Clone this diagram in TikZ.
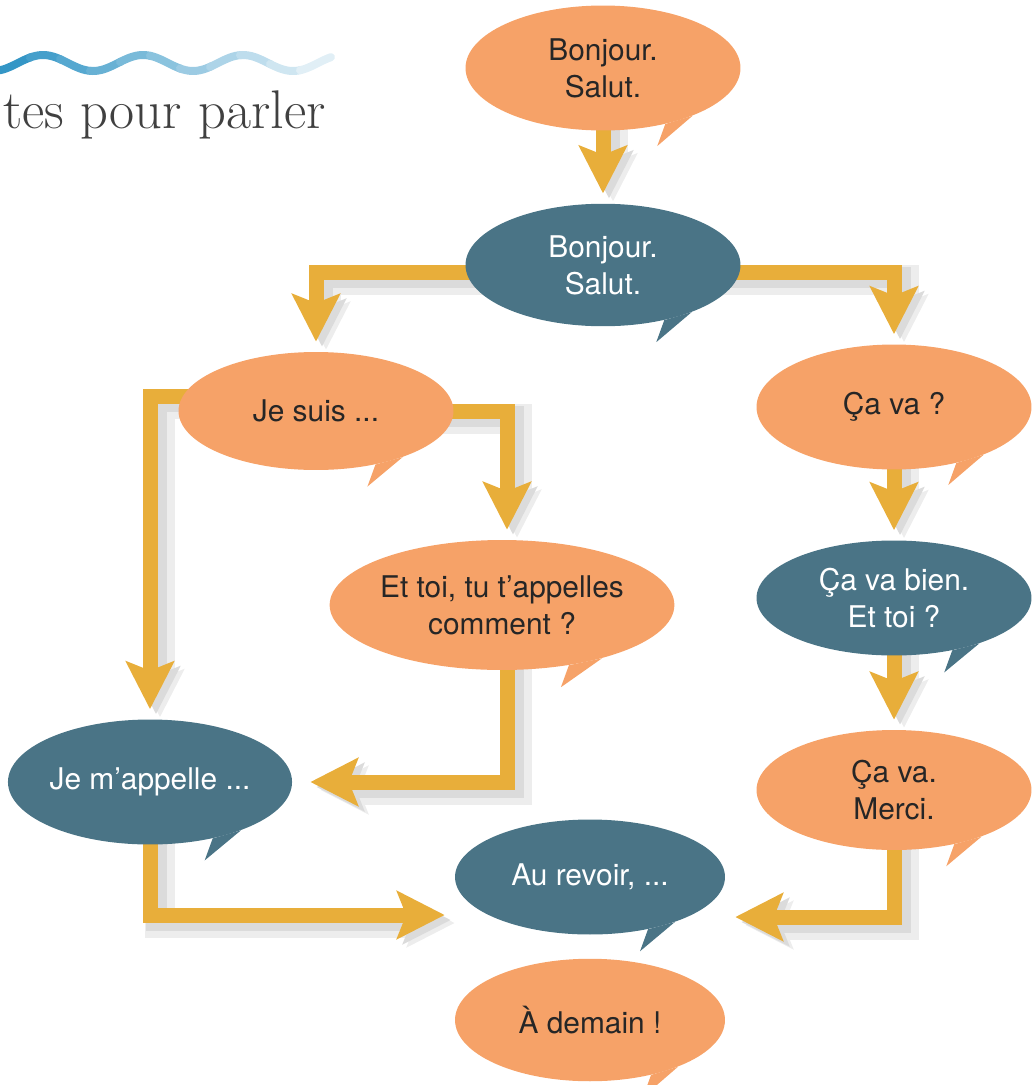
\documentclass[tikz,border=0pt]{standalone}
\usepackage{fontspec}
\newfontfamily\bubblefont{TeX Gyre Heros}
\usetikzlibrary{shapes.geometric,arrows.meta,calc}
\pgfdeclarelayer{back}
\pgfsetlayers{back,main}
\definecolor{orangeb}{RGB}{246,162,104}
\definecolor{blueb}{RGB}{74,116,134}
\definecolor{gold}{RGB}{232,174,58}
\definecolor{wave}{RGB}{52,150,198}
\tikzset{
  bubble/.style={ellipse, inner sep=0pt, minimum width=5.5cm, minimum height=2.45cm,
    align=center, font=\bubblefont\fontsize{17}{21}\selectfont},
  obubble/.style={bubble, fill=orangeb, text=black!85},
  bbubble/.style={bubble, fill=blueb, text=white},
  flow/.style={draw=gold, line width=0.3cm, shorten >=0.2cm,
    -{Stealth[length=0.95cm, width=0.95cm, inset=0.18cm]}}
}
\newcommand\flowlines{
  \draw[flow] (bonjour1.center) -- (bonjour2.north);
  \draw[flow] ($(bonjour2.center)+(0,7)$) -| (suis.north);
  \draw[flow] ($(bonjour2.center)+(0,7)$) -| (cava.north);
  \draw[flow] (suis.center) -| ($(toi.north)+(5,0)$);
  \draw[flow] ($(suis.center)+(0,-15)$) -| (appelle.north);
  \draw[flow] ($(toi.center)+(5,0)$) |- ($(appelle.east)+(8,0)$);
  \draw[flow] (cava.center) -- (bien.north);
  \draw[flow] (bien.center) -- (merci.north);
  \draw[flow] (appelle.center) |- ($(revoir.west)+(0,38)$);
  \draw[flow] (merci.center) |- ($(revoir.east)+(0,40)$);
}
\begin{document}
\begin{tikzpicture}[x=0.02cm, y=-0.02cm]
\useasboundingbox (0,0) rectangle (1031,1085);

\foreach \i in {0,...,10}
  \pgfmathsetmacro\p{100-\i*8.5}
  \draw[wave!\p!white, line width=0.16cm, line cap=round]
    plot[domain=\i*30:\i*30+31, samples=12] (\x, {63-8*sin(3.6*(\x-18))});
\node[anchor=base west, font=\fontsize{31}{32}\selectfont, text=black!75] (titre) at (-3,128) {tes pour parler};

\node[obubble, minimum height=2.5cm] (bonjour1) at (603,68) {Bonjour.\\Salut.};
\node[bbubble] (bonjour2) at (603,265) {Bonjour.\\Salut.};
\node[obubble, minimum height=2.36cm] (suis) at (316,411) {Je suis ...};
\node[obubble, minimum height=2.5cm] (cava) at (894,407) {Ça va ?};
\node[obubble, minimum height=2.6cm] (toi) at (502,605) {Et toi, tu t’appelles\\comment ?};
\node[bbubble, minimum height=2.3cm] (bien) at (894,598) {Ça va bien.\\Et toi ?};
\node[bbubble, minimum width=5.64cm, minimum height=2.5cm] (appelle) at (150,782) {Je m’appelle ...};
\node[obubble, minimum height=2.4cm] (merci) at (894,790) {Ça va.\\Merci.};
\node[bbubble, minimum width=5.4cm, minimum height=2.3cm] (revoir) at (590,877) {Au revoir, ...};
\node[obubble, minimum width=5.4cm] (demain) at (590,1020) {À demain !};

\foreach \n/\c in {bonjour1/orangeb, bonjour2/blueb, suis/orangeb, cava/orangeb, toi/orangeb,
    bien/blueb, appelle/blueb, merci/orangeb, revoir/blueb, demain/orangeb}
  \fill[\c] (\n.-42) -- ++(-8,22) -- (\n.-28) -- cycle;

\begin{pgfonlayer}{back}
\begin{scope}[transform canvas={shift={(10,8)}}, flow/.append style={draw=black!7, line width=0.6cm}]
\flowlines
\end{scope}
\begin{scope}[transform canvas={shift={(6,5)}}, flow/.append style={draw=black!14, line width=0.42cm}]
\flowlines
\end{scope}
\flowlines
\end{pgfonlayer}
\end{tikzpicture}
\end{document}
